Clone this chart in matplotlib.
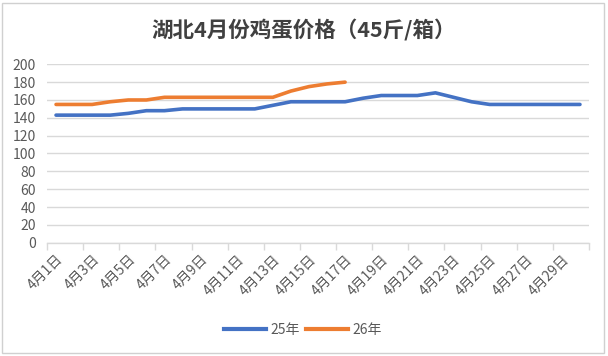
import matplotlib
matplotlib.use("Agg")
import matplotlib.pyplot as plt
from matplotlib.lines import Line2D
from matplotlib.patches import Rectangle

plt.rcParams['font.family'] = ['Noto Sans CJK SC', 'DejaVu Sans']

title = "湖北4月份鸡蛋价格（45斤/箱）"
days = [f"4月{d}日" for d in range(1, 31)]
series_names = ["25年", "26年"]
y25 = [143, 143, 143, 143, 145, 148, 148, 150, 150, 150, 150, 150, 154, 158, 158,
       158, 158, 162, 165, 165, 165, 168, 163, 158, 155, 155, 155, 155, 155, 155]
y26 = [155, 155, 155, 158, 160, 160, 163, 163, 163, 163, 163, 163, 163, 170, 175,
       178, 180]
yticks = list(range(0, 201, 20))

colors = ["#4472C4", "#ED7D31"]
grid_c = "#D9D9D9"
text_c = "#595959"

fig = plt.figure(figsize=(6.08, 3.56), dpi=100)
fig.patches.append(Rectangle((2/608, 3/356), 602/608, 350/356, transform=fig.transFigure,
                             fill=False, edgecolor="#D0D0D0", linewidth=1.0))

ax = fig.add_axes([47/608, 113.3/356, 542/608, 178.4/356])
x25 = list(range(len(y25)))
x26 = list(range(len(y26)))
ax.plot(x25, y25, color=colors[0], lw=2.6, solid_capstyle='round', solid_joinstyle='round', zorder=3)
ax.plot(x26, y26, color=colors[1], lw=2.6, solid_capstyle='round', solid_joinstyle='round', zorder=3)

ax.set_xlim(-0.5, len(days) - 0.5)
ax.set_ylim(0, 200)
ax.set_yticks(yticks)
ax.set_yticklabels([str(v) for v in yticks], fontsize=10, color=text_c)
ax.tick_params(axis='y', length=0, pad=8)
ax.grid(axis='y', color=grid_c, lw=1.0, zorder=0)

# category axis: tick marks between every 2 categories, labels every 2 categories
ax.set_xticks([i - 0.5 for i in range(0, len(days) + 1, 2)])
ax.set_xticklabels([])
ax.tick_params(axis='x', which='major', length=5, color=grid_c, width=1)
ax.set_xticks(list(range(0, len(days), 2)), minor=True)
ax.set_xticklabels(days[::2], minor=True, rotation=45, ha='right', va='top',
                   rotation_mode='anchor', fontsize=10, color=text_c)
ax.tick_params(axis='x', which='minor', length=0, pad=7)

for s in ['top', 'right', 'left']:
    ax.spines[s].set_visible(False)
ax.spines['bottom'].set_color(grid_c)
ax.spines['bottom'].set_linewidth(1.0)

fig.text(0.5, 1 - 30/356, title, ha='center', va='center', fontsize=15.5,
         fontweight='bold', color="#404040")

handles = [Line2D([], [], color=c, lw=3) for c in colors]
fig.legend(handles, series_names, loc='center', bbox_to_anchor=(303/608, 1 - 330/356),
           ncol=2, frameon=False, fontsize=10, handlelength=3.0, columnspacing=0.5,
           handletextpad=0.3, labelcolor=text_c)

fig.savefig("out.png", dpi=100)
